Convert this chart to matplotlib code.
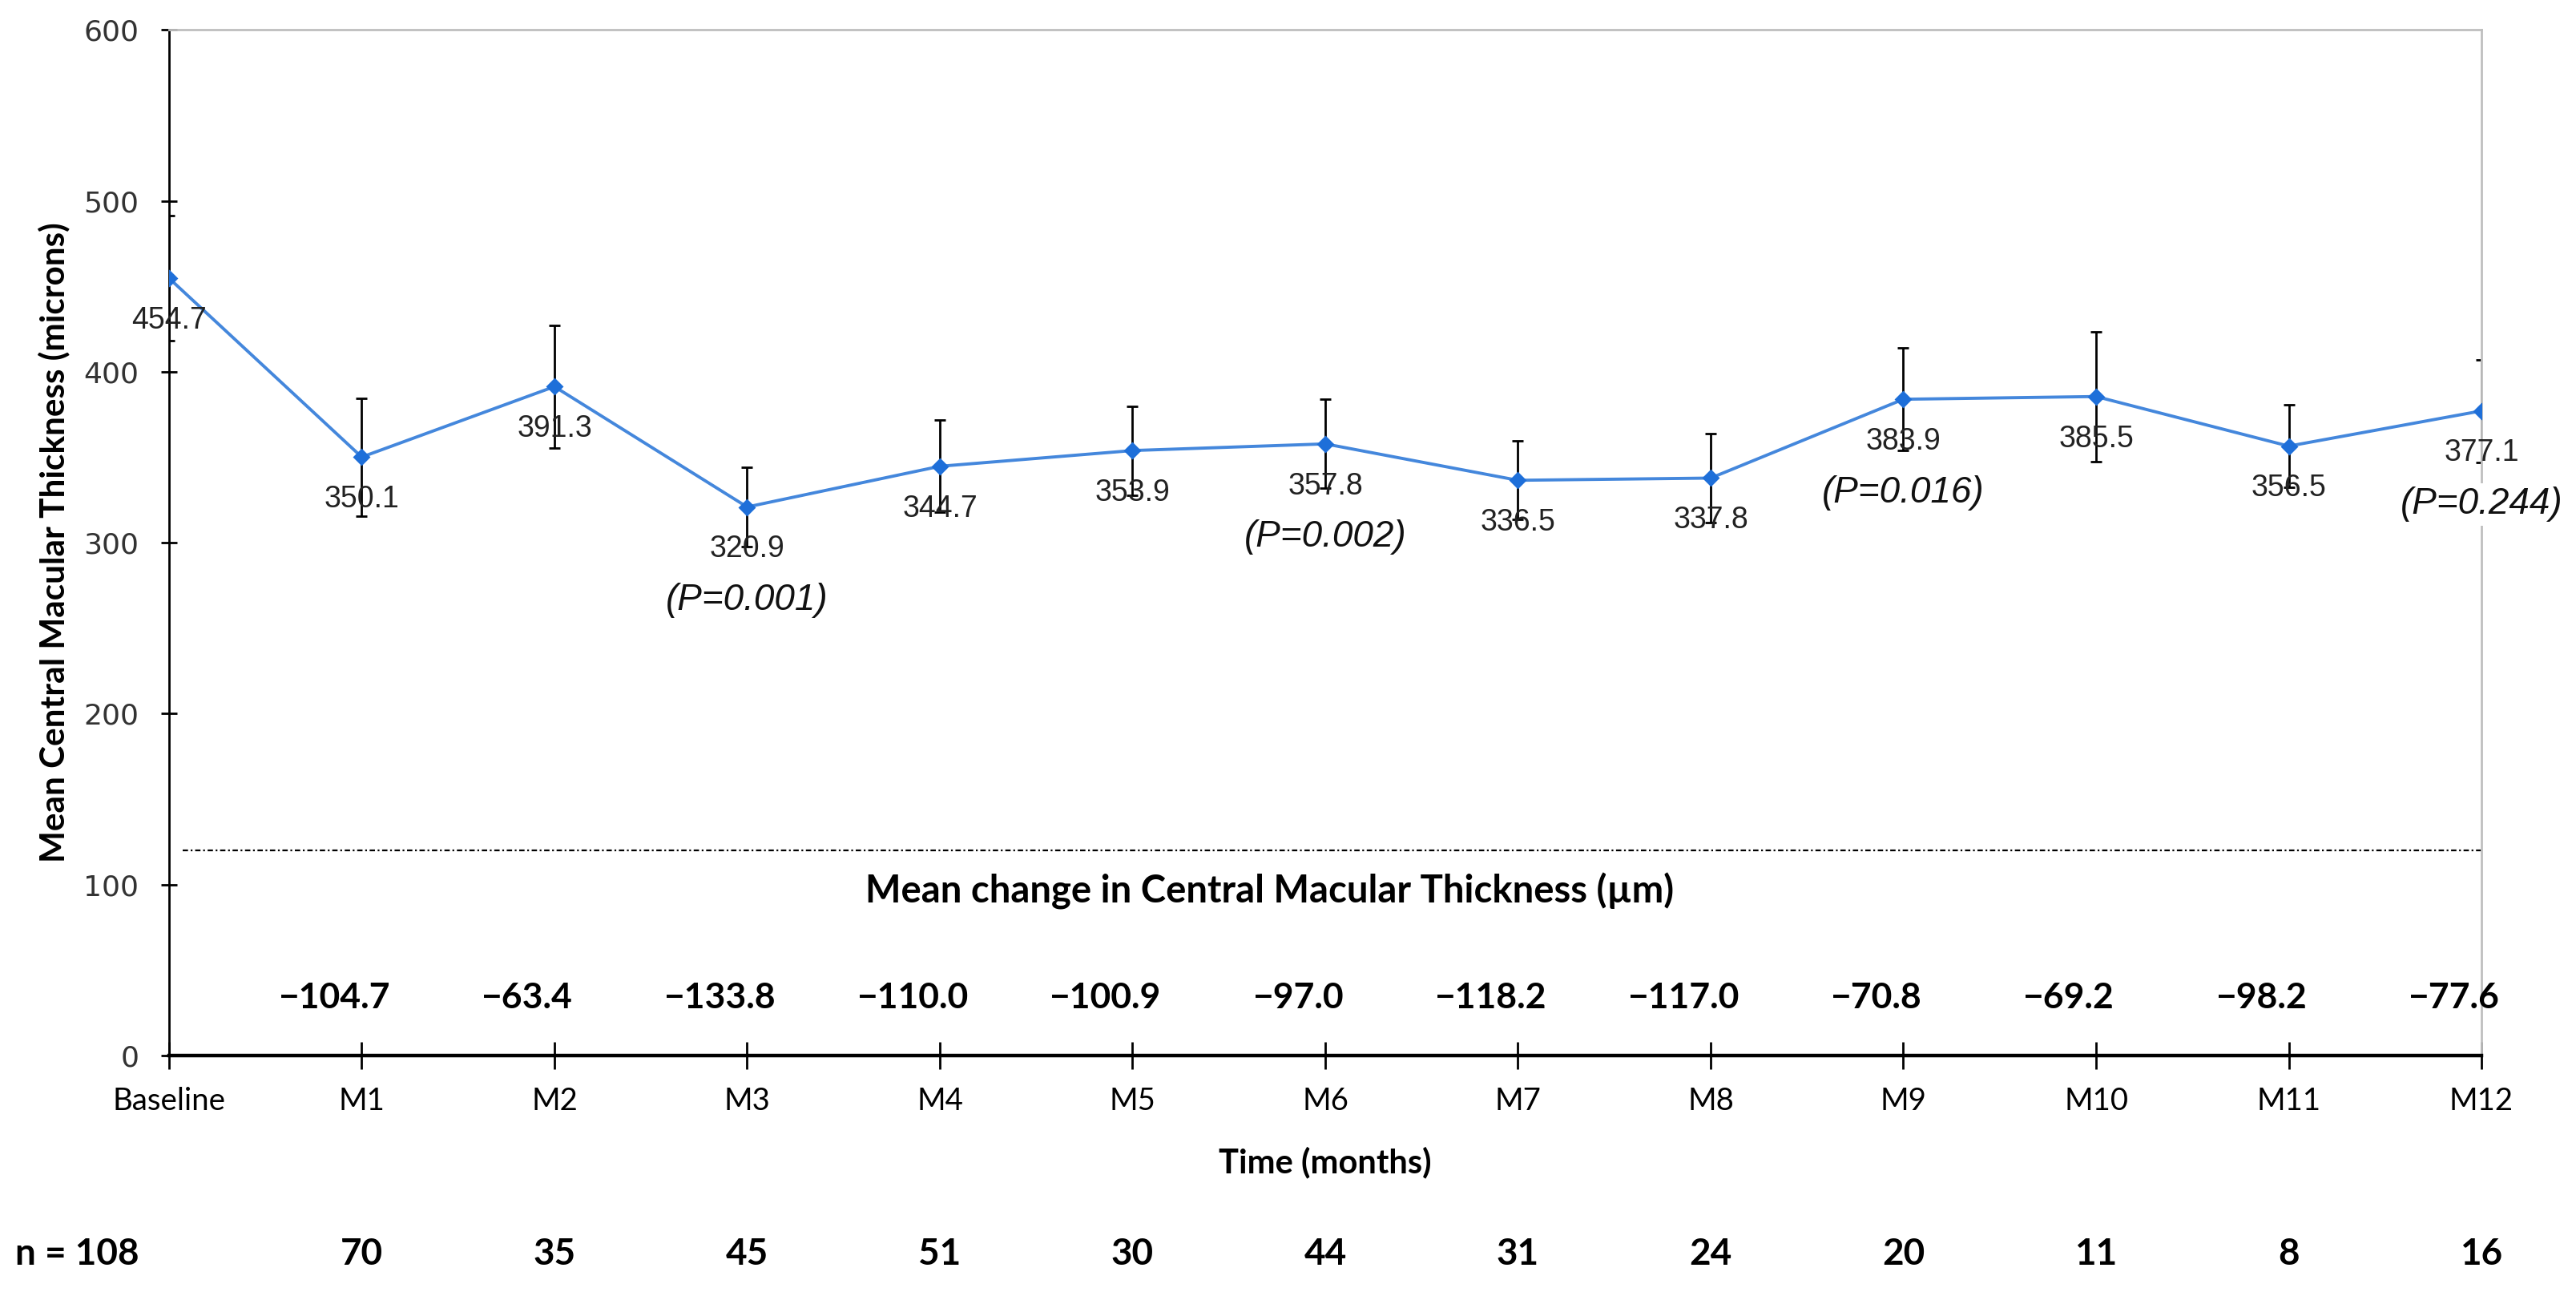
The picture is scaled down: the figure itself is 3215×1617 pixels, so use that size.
import matplotlib
matplotlib.use('Agg')
import matplotlib.pyplot as plt
import matplotlib.transforms as mtransforms

# data
months = ['Baseline', 'M1', 'M2', 'M3', 'M4', 'M5', 'M6', 'M7', 'M8', 'M9', 'M10', 'M11', 'M12']
cmt_mean = [454.7, 350.1, 391.3, 320.9, 344.7, 353.9, 357.8, 336.5, 337.8, 383.9, 385.5, 356.5, 377.1]
cmt_err = [36.5, 34.5, 36.0, 23.0, 27.0, 26.0, 26.0, 23.0, 26.0, 30.0, 38.0, 24.0, 30.0]
mean_change = [-104.7, -63.4, -133.8, -110.0, -100.9, -97.0, -118.2, -117.0, -70.8, -69.2, -98.2, -77.6]
n_patients = [108, 70, 35, 45, 51, 30, 44, 31, 24, 20, 11, 8, 16]
p_months = ['M3', 'M6', 'M9', 'M12']
p_values = ['0.001', '0.002', '0.016', '0.244']

calibri_like = ['Lato', 'DejaVu Sans']
arial_like = ['Liberation Sans', 'DejaVu Sans']

fig = plt.figure(figsize=(16.08, 8.085), dpi=200)
ax = fig.add_axes([0.0656, 0.1855, 0.8974, 0.7915])

x = list(range(len(months)))

ax.errorbar(x, cmt_mean, yerr=cmt_err, fmt='none', ecolor='black',
            elinewidth=1.0, capsize=2.5, capthick=1.0, zorder=2)
ax.plot(x, cmt_mean, color='#4487DC', lw=1.4, marker='D', ms=4.6,
        mfc='#1E6FD9', mec='#1E6FD9', zorder=3)

# value labels under each point
for i, v in enumerate(cmt_mean):
    ax.annotate(f'{v:.1f}', (i, v), xytext=(0, -19), textcoords='offset points',
                ha='center', va='center', fontsize=13.5, family=arial_like,
                color='#222222', zorder=4)

# p-values
for m, p in zip(p_months, p_values):
    i = months.index(m)
    ax.annotate(f'(P={p})', (i, cmt_mean[i]), xytext=(0, -42), textcoords='offset points',
                ha='center', va='center', fontsize=16.5, style='italic',
                family=arial_like, color='#111111', zorder=4,
                bbox=dict(boxstyle='square,pad=0.1', fc='white', ec='none'))

# separator and the change-from-baseline row
ax.plot([0.07, 12], [120, 120], color='black', lw=0.8,
        linestyle=(0, (3, 1.5, 1, 1.5)), zorder=1)
ax.text(5.71, 96, 'Mean change in Central Macular Thickness (µm)', ha='center', va='center',
        fontsize=17, fontweight='bold', family=calibri_like)
for i, c in enumerate(mean_change, start=1):
    ax.text(i - 0.14, 34, f'{c:.1f}'.replace('-', '\u2212'), ha='center', va='center',
            fontsize=16, fontweight='bold', family=calibri_like)

# patient counts under the axis
trans = mtransforms.blended_transform_factory(ax.transData, ax.transAxes)
for i, n in enumerate(n_patients):
    label = f'n = {n}' if i == 0 else str(n)
    xpos = -0.476 if i == 0 else i
    ax.text(xpos, -0.194, label, transform=trans, ha='center', va='center',
            fontsize=16.5, fontweight='bold', family=calibri_like, clip_on=False)

ax.set_xlim(0, 12)
ax.set_ylim(0, 600)
ax.set_xticks(x)
ax.set_xticklabels(months, fontsize=13.8, family=calibri_like)
ax.set_yticks(range(0, 601, 100))
ax.set_yticklabels([str(t) for t in range(0, 601, 100)], fontsize=13, family='DejaVu Sans',
                   color='#333333')
ax.tick_params(axis='x', direction='inout', length=12, width=1.0, pad=8)
ax.tick_params(axis='y', direction='inout', length=7, width=1.0, pad=10)

ax.set_xlabel('Time (months)', fontsize=15, fontweight='bold', family=calibri_like, labelpad=14)
ax.set_ylabel('Mean Central Macular Thickness (microns)', fontsize=15.2, fontweight='bold',
              family=calibri_like, labelpad=6)

ax.spines['left'].set_linewidth(1.0)
ax.spines['bottom'].set_linewidth(1.6)
for s in ['top', 'right']:
    ax.spines[s].set_color('#BFBFBF')
    ax.spines[s].set_linewidth(1.0)

fig.savefig('out.png', dpi=200)
